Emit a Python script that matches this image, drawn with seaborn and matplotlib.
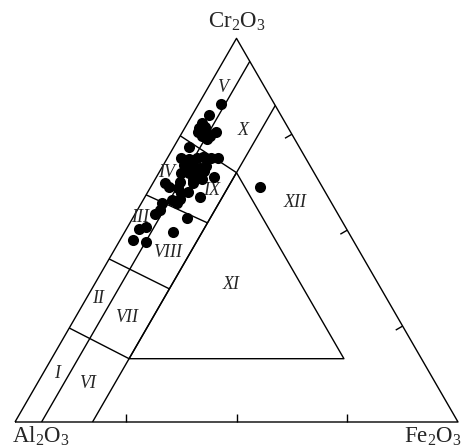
import numpy as np
import pandas as pd
import matplotlib
matplotlib.use('Agg')
import matplotlib.pyplot as plt
import seaborn as sns

cr2o3 = [82.8, 80.0, 77.9, 76.6, 76.9, 75.6, 75.9, 75.7, 74.6, 74.6,
         73.8, 71.7, 68.7, 68.7, 68.6, 68.8, 69.1, 68.7, 66.9, 67.0,
         66.3, 66.6, 65.0, 65.0, 64.8, 65.4, 63.1, 63.4, 63.9, 62.6,
         62.2, 62.2, 61.3, 60.9, 60.0, 59.7, 58.7, 57.9, 58.0, 57.0,
         57.0, 55.3, 54.2, 53.1, 50.7, 50.3, 49.6, 47.4, 47.0, 61.2]
fe2o3 = [5.0, 3.8, 3.2, 3.2, 4.4, 3.5, 5.2, 7.6, 4.9, 6.7,
         6.4, 3.4, 11.5, 3.2, 5.0, 6.7, 7.8, 9.8, 4.6, 6.4,
         8.6, 9.9, 5.0, 6.8, 8.6, 10.0, 8.7, 10.4, 13.0, 5.9,
         9.1, 2.8, 4.1, 6.4, 9.1, 7.7, 12.4, 6.4, 8.2, 8.0,
         4.6, 5.1, 4.5, 12.2, 4.3, 2.8, 10.9, 2.9, 6.1, 24.7]
al2o3 = [100 - c - f for c, f in zip(cr2o3, fe2o3)]

# Linhas de fronteira dos campos (Cr2O3, Fe2O3) em %
fe_lines = [6.0, 17.5]
cross_lines = [((24.5, 0.0), (16.5, 17.5)),
               ((42.5, 0.0), (34.7, 17.5)),
               ((59.2, 0.0), (51.9, 17.5)),
               ((74.6, 0.0), (65.0, 17.5))]
inner_tri = [(65.0, 17.5), (16.5, 17.5), (16.5, 66.0)]

campos = ['V', 'X', 'IV', 'IX', 'III', 'VIII', 'II', 'VII', 'I', 'VI', 'XII', 'XI']
campos_xy = [(0.4695, 0.7562), (0.5147, 0.6591), (0.3431, 0.5621), (0.4447, 0.5237),
             (0.2822, 0.4605), (0.3454, 0.3837), (0.1874, 0.2799), (0.2528, 0.2370),
             (0.0948, 0.1106), (0.1648, 0.0880), (0.6321, 0.4944), (0.4876, 0.3093)]

H = np.sqrt(3) / 2


def tern(cr, fe):
    cr = np.asarray(cr) / 100
    fe = np.asarray(fe) / 100
    return fe + cr / 2, cr * H


sns.set_style('white')
plt.rcParams['font.family'] = ['Liberation Serif', 'DejaVu Serif']
plt.rcParams['mathtext.fontset'] = 'custom'
plt.rcParams['mathtext.rm'] = 'Liberation Serif'
plt.rcParams['mathtext.it'] = 'Liberation Serif:italic'

fig = plt.figure(figsize=(4.62, 4.48), dpi=100)
ax = fig.add_axes([0, 0, 1, 1])
ax.set_xlim(-15 / 443, 447 / 443)
ax.set_ylim(-26 / 443, 422 / 443)
ax.axis('off')

lw = 1.0
kw = dict(color='black', lw=lw, solid_capstyle='butt')

# triângulo externo
ax.plot([0, 1, 0.5, 0], [0, 0, H, 0], **kw)

# linhas de Fe2O3 constante, da base ao lado direito
for f in fe_lines:
    x, y = tern([0, 100 - f], [f, f])
    ax.plot(x, y, **kw)

for (c1, f1), (c2, f2) in cross_lines:
    x, y = tern([c1, c2], [f1, f2])
    ax.plot(x, y, **kw)

tc = [p[0] for p in inner_tri] + [inner_tri[0][0]]
tf = [p[1] for p in inner_tri] + [inner_tri[0][1]]
x, y = tern(tc, tf)
ax.plot(x, y, **kw)

# marcas nos lados (base e lado direito)
tk = 0.018
for t in [0.25, 0.5, 0.75]:
    ax.plot([t, t], [0, tk], **kw)
    px, py = 0.5 + 0.5 * t, H * (1 - t)
    ax.plot([px, px - tk * H], [py, py - tk * 0.5], **kw)

df = pd.DataFrame({'Cr2O3': cr2o3, 'Al2O3': al2o3, 'Fe2O3': fe2o3})
df['x'], df['y'] = tern(df['Cr2O3'], df['Fe2O3'])
sns.scatterplot(data=df, x='x', y='y', ax=ax, color='black', s=64,
                linewidth=0, zorder=5, legend=False)

for nome, (cx, cy) in zip(campos, campos_xy):
    ax.text(cx, cy, nome, fontsize=13, style='italic', ha='center', va='center')

ax.text(0.501, 0.889, r'Cr$_2$O$_3$', fontsize=16.5, ha='center', va='baseline')
ax.text(-0.007, -0.0474, r'Al$_2$O$_3$', fontsize=16.5, ha='left', va='baseline')
ax.text(0.878, -0.0474, r'Fe$_2$O$_3$', fontsize=16.5, ha='left', va='baseline')

fig.savefig('out.png', dpi=100)
